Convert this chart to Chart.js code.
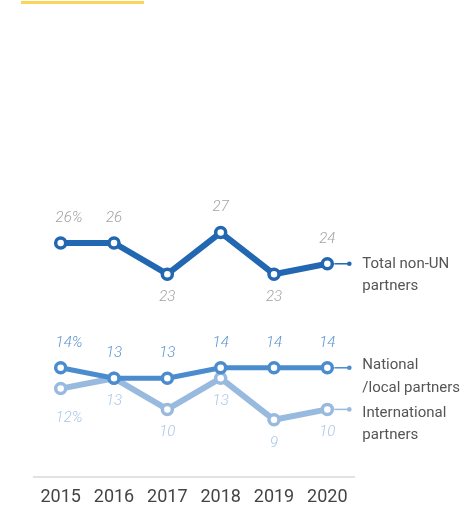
<!DOCTYPE html>
<html>
<head>
<meta charset="utf-8">
<script src="https://cdn.jsdelivr.net/npm/chart.js@4.4.0/dist/chart.umd.min.js"></script>
<style>
  html, body { margin: 0; padding: 0; background: #fff; }
  #wrap { position: relative; width: 465px; height: 512px; }
  #topbar { position: absolute; left: 21px; top: 1px; width: 123px; height: 3px; background: #fcd45a; }
</style>
</head>
<body>
<div id="wrap">
  <div id="topbar"></div>
  <canvas id="chart" width="465" height="512"></canvas>
</div>
<script>
const years = ['2015', '2016', '2017', '2018', '2019', '2020'];
const totalNonUN = [26, 26, 23, 27, 23, 24];
const nationalLocal = [14, 13, 13, 14, 14, 14];
const international = [12, 13, 10, 13, 9, 10];
const seriesNames = [
  ['Total non-UN', 'partners'],
  ['National', '/local partners'],
  ['International', 'partners']
];

const colors = ['#2267b1', '#4a8ccd', '#99badf'];
const labelColors = ['#a3a3a3', '#5b92d2', '#aac6e8'];
// where value labels sit: 1 = above, -1 = below
const labelSides = [
  [1, 1, -1, 1, -1, 1],
  [1, 1, 1, 1, 1, 1],
  [-1, -1, -1, -1, -1, -1]
];
const nameOffsets = [[0, 22], [-3, 20], [4, 26]];

function makeSet(data, i, width) {
  return {
    data: data,
    borderColor: colors[i],
    borderWidth: width,
    pointRadius: 5,
    pointBorderWidth: 3.5,
    pointBackgroundColor: '#fff',
    pointBorderColor: colors[i],
    pointHoverRadius: 5,
    tension: 0
  };
}

const labelPlugin = {
  id: 'labelPlugin',
  afterDatasetsDraw(chart) {
    const ctx = chart.ctx;
    chart.data.datasets.forEach((ds, di) => {
      const pts = chart.getDatasetMeta(di).data;
      ctx.save();
      ctx.textBaseline = 'middle';
      ctx.font = 'italic 300 15px Roboto';
      ctx.fillStyle = labelColors[di];
      pts.forEach((p, i) => {
        let off = labelSides[di][i] > 0 ? -25 : 23;
        if (di === 2 && i === 0) off = 30;
        const txt = String(ds.data[i]);
        if (i === 0) {
          const w = ctx.measureText(txt).width;
          ctx.textAlign = 'left';
          ctx.fillText(txt + '%', p.x + 3 - w / 2, p.y + off);
        } else {
          ctx.textAlign = 'center';
          ctx.fillText(txt, p.x, p.y + off);
        }
      });
      // end connector and series name
      const last = pts[pts.length - 1];
      const endX = last.x + 22;
      ctx.strokeStyle = colors[di];
      ctx.lineWidth = 1.5;
      ctx.beginPath();
      ctx.moveTo(last.x + 7, last.y);
      ctx.lineTo(endX, last.y);
      ctx.stroke();
      ctx.fillStyle = colors[di];
      ctx.beginPath();
      ctx.arc(endX, last.y, 2.3, 0, Math.PI * 2);
      ctx.fill();
      ctx.font = '15px Roboto';
      ctx.fillStyle = '#555';
      ctx.textAlign = 'left';
      seriesNames[di].forEach((line, li) => {
        ctx.fillText(line, endX + 13, last.y + nameOffsets[di][li]);
      });
      ctx.restore();
    });
  }
};

new Chart(document.getElementById('chart'), {
  type: 'line',
  data: {
    labels: years,
    datasets: [
      makeSet(totalNonUN, 0, 6),
      makeSet(nationalLocal, 1, 5),
      makeSet(international, 2, 6)
    ]
  },
  options: {
    responsive: false,
    animation: false,
    layout: { padding: { left: 34, right: 111, top: 10, bottom: 0 } },
    plugins: { legend: { display: false }, tooltip: { enabled: false } },
    scales: {
      x: {
        offset: true,
        grid: { display: false, drawTicks: false, tickLength: 0 },
        border: { display: true, color: '#e2e2e2', width: 2 },
        ticks: { color: '#444', font: { family: 'Roboto', size: 18 }, padding: 10 },
        afterFit(scale) { scale.height = 35; }
      },
      y: {
        display: false,
        min: 3.5,
        max: 48.4
      }
    }
  },
  plugins: [labelPlugin]
});
</script>
</body>
</html>
